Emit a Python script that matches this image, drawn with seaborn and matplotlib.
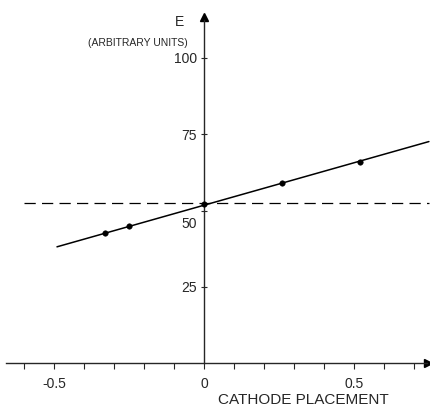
import numpy as np
import pandas as pd
import seaborn as sns
import matplotlib.pyplot as plt
import matplotlib.transforms as mtransforms

cathode_x = [-0.33, -0.25, 0.0, 0.26, 0.52]
energy = [42.5, 45.0, 52.3, 59.1, 66.0]
fit_x = [-0.49, 0.75]
fit_y = [38.1, 72.6]
reference_level = 52.5

y_ticks = [25, 50, 75, 100]
x_major = [-0.5, 0, 0.5]
x_minor = [-0.6, -0.4, -0.3, -0.2, -0.1, 0.1, 0.2, 0.3, 0.4, 0.6, 0.7]
x_labels = ['-0.5', '0', '0.5']

pts = pd.DataFrame({'x': cathode_x, 'E': energy})
fit = pd.DataFrame({'x': fit_x, 'E': fit_y})

sns.set_style('white')
plt.rcParams['font.family'] = ['Liberation Sans', 'DejaVu Sans']

fig = plt.figure(figsize=(4.31, 4.07), dpi=100)
ax = fig.add_axes([0, 0, 1, 1])
ax.set_xlim(-0.68, 0.757)
ax.set_ylim(-14.4, 119.0)

#reference dashed line
ax.plot([-0.6, 0.75], [reference_level, reference_level], color='black',
        lw=0.9, dashes=(9, 5))
sns.lineplot(data=fit, x='x', y='E', color='black', lw=1.1, ax=ax)
sns.scatterplot(data=pts, x='x', y='E', color='black', s=16, edgecolor='black',
                zorder=5, ax=ax)

#axes through the origin
for s in ['top', 'right']:
    ax.spines[s].set_visible(False)
ax.spines['left'].set_position(('data', 0))
ax.spines['bottom'].set_position(('data', 0))
ax.spines['left'].set_bounds(0, 112.5)
ax.spines['bottom'].set_bounds(-0.66, 0.745)
ax.spines['left'].set_linewidth(1.0)
ax.spines['bottom'].set_linewidth(1.0)
ax.plot(0.748, 0, marker='>', color='black', ms=6, clip_on=False)
ax.plot(0, 113.5, marker='^', color='black', ms=6, clip_on=False)

ax.set_xticks(x_major)
ax.set_xticklabels(x_labels, fontsize=10)
ax.set_xticks(x_minor, minor=True)
ax.set_yticks(y_ticks)
ax.set_yticklabels([str(v) for v in y_ticks], fontsize=10)
ax.tick_params(axis='x', which='both', direction='out', length=4, width=0.8,
               pad=6, bottom=True)
ax.tick_params(axis='y', direction='inout', length=4, width=0.8, pad=3, left=True)
ax.set_xlabel('')
ax.set_ylabel('')

#the 50 label sits below the dashed line in the original
lab50 = ax.get_yticklabels()[1]
lab50.set_transform(lab50.get_transform() +
                    mtransforms.ScaledTranslation(0, -12 / 100, fig.dpi_scale_trans))

ax.text(180 / 431, 1 - 22 / 407, 'E', transform=ax.transAxes, fontsize=10,
        ha='center', va='center')
ax.text(303 / 431, 7 / 407, 'CATHODE PLACEMENT', transform=ax.transAxes,
        fontsize=11, ha='center', va='center')
ax.text(138 / 431, 1 - 43 / 407, '(ARBITRARY UNITS)', transform=ax.transAxes,
        fontsize=7.5, ha='center', va='center')

plt.savefig('out.png', dpi=100)
